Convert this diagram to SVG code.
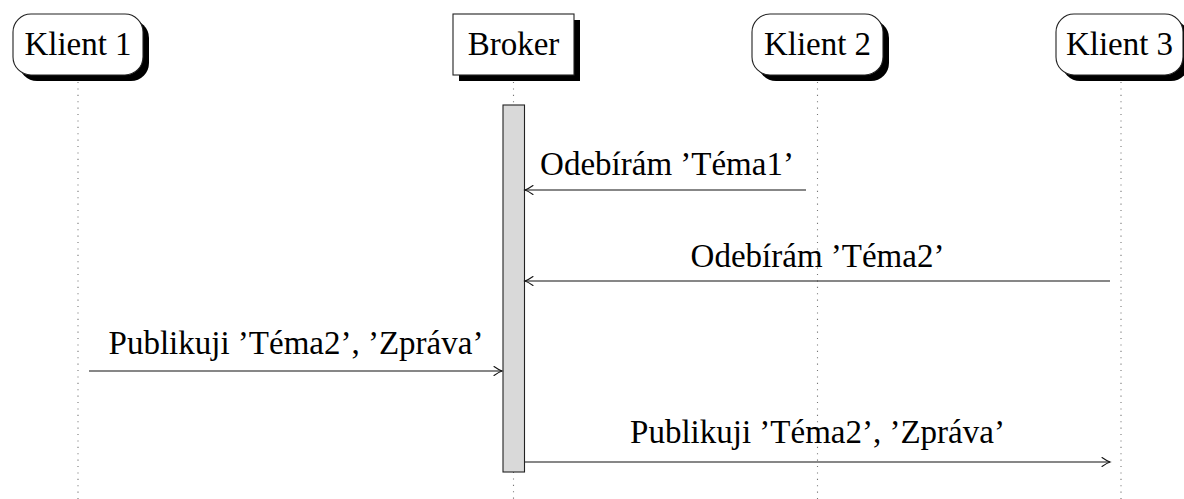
<svg xmlns="http://www.w3.org/2000/svg" width="1184" height="499" viewBox="0 0 1184 499">
  <style>
    .lbl { font-family: "Liberation Serif", "DejaVu Serif", serif; font-size: 33px; fill: #000; text-anchor: middle; }
    .box { fill: #fff; stroke: #222; stroke-width: 1.1; }
    .shadow { fill: #000; stroke: none; }
    .life { stroke: #777; stroke-width: 1.1; stroke-dasharray: 1.1 5.3; fill: none; }
    .msg { stroke: #111; stroke-width: 1.1; fill: none; marker-end: url(#tip); }
    .act { fill: #d9d9d9; stroke: #222; stroke-width: 1.1; }
  </style>
  <defs>
    <marker id="tip" markerUnits="userSpaceOnUse" markerWidth="14" markerHeight="14" viewBox="-10 -7 12 14" refX="0" refY="0" orient="auto">
      <path d="M -8 -4.5 Q -3 -1 0 0 Q -3 1 -8 4.5" fill="none" stroke="#111" stroke-width="1.1" stroke-linecap="round"/>
    </marker>
  </defs>
  <rect width="1184" height="499" fill="#fff"/>

  <!-- lifelines -->
  <g id="lifelines">
    <line class="life" x1="78" y1="82" x2="78" y2="499"/>
    <line class="life" x1="513.5" y1="82" x2="513.5" y2="105"/>
    <line class="life" x1="513.5" y1="472" x2="513.5" y2="499"/>
    <line class="life" x1="817.5" y1="82" x2="817.5" y2="499"/>
    <line class="life" x1="1121" y1="82" x2="1121" y2="499"/>
  </g>

  <!-- participants -->
  <g id="klient1">
    <rect class="shadow" x="19" y="20" width="130" height="61" rx="18"/>
    <rect class="box" x="13" y="14" width="130" height="61" rx="18"/>
    <text class="lbl" x="78" y="55">Klient 1</text>
  </g>
  <g id="broker">
    <rect class="shadow" x="459" y="20" width="121" height="61"/>
    <rect class="box" x="453" y="14" width="121" height="61" stroke="#555"/>
    <text class="lbl" x="513.5" y="55">Broker</text>
  </g>
  <g id="klient2">
    <rect class="shadow" x="758" y="20" width="131" height="61" rx="18"/>
    <rect class="box" x="752" y="14" width="131" height="61" rx="18"/>
    <text class="lbl" x="817.5" y="55">Klient 2</text>
  </g>
  <g id="klient3">
    <rect class="shadow" x="1062" y="20" width="127" height="61" rx="18"/>
    <rect class="box" x="1056" y="14" width="127" height="61" rx="18"/>
    <text class="lbl" x="1119.5" y="55">Klient 3</text>
  </g>

  <!-- broker activation bar -->
  <g id="broker-activation">
    <rect class="act" x="503" y="105" width="21.5" height="367"/>
  </g>

  <!-- messages -->
  <g id="connectors">
    <line class="msg" x1="806" y1="190" x2="525" y2="190"/>
    <line class="msg" x1="1110" y1="281" x2="525" y2="281"/>
    <line class="msg" x1="89" y1="371" x2="502" y2="371"/>
    <line class="msg" x1="525" y1="462" x2="1110" y2="462"/>
  </g>
  <g id="message-labels">
    <text class="lbl" x="667" y="175">Odebírám ’Téma1’</text>
    <text class="lbl" x="817.5" y="267">Odebírám ’Téma2’</text>
    <text class="lbl" x="296" y="354">Publikuji ’Téma2’, ’Zpráva’</text>
    <text class="lbl" x="817.5" y="443">Publikuji ’Téma2’, ’Zpráva’</text>
  </g>
</svg>
